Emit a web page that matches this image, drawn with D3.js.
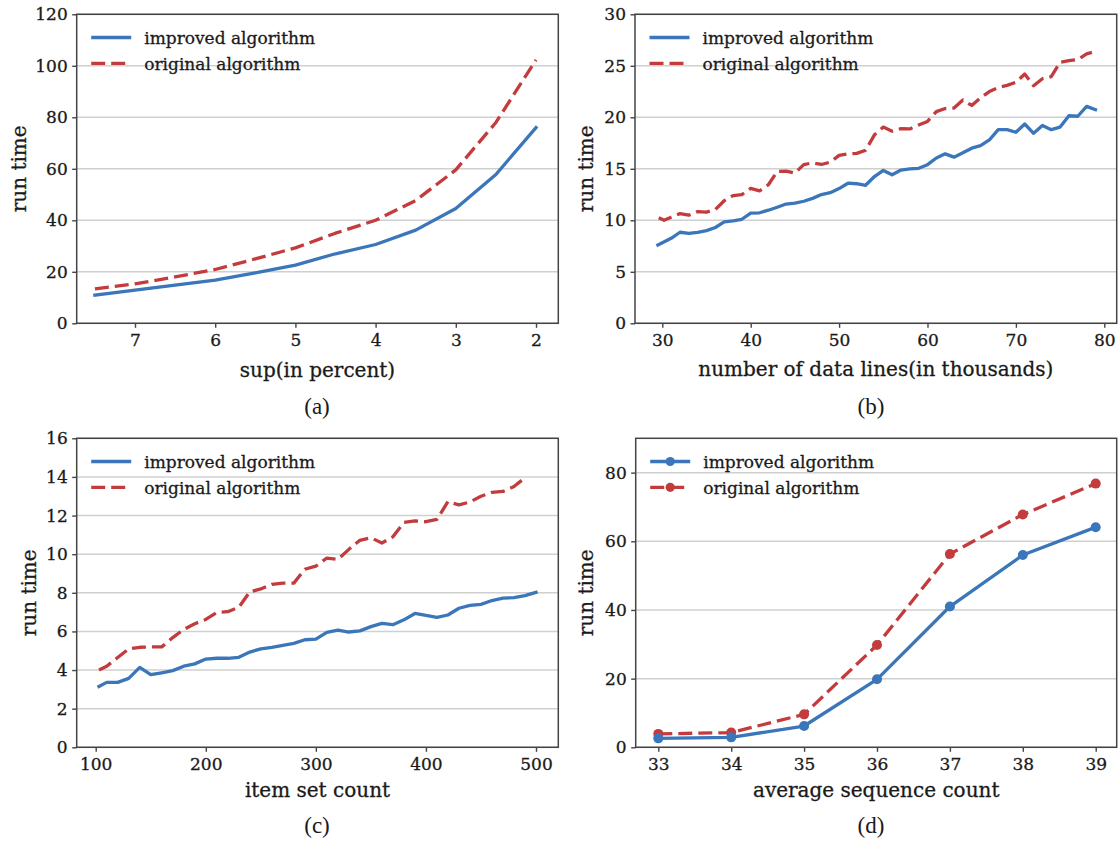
<!DOCTYPE html>
<html><head><meta charset="utf-8">
<script src="https://cdn.jsdelivr.net/npm/d3@7/dist/d3.min.js"></script>
<style>
body{margin:0;background:#fff}
text{font-family:"DejaVu Serif",serif;fill:#1a1a1a;stroke:#1a1a1a;stroke-width:0.3px}
</style>
</head><body>
<svg id="chart" width="1118" height="842"></svg>
<script>
// ---------- data ----------
const seriesNames = ["improved algorithm", "original algorithm"];

// (a) sup (in percent)
const aX = [7.5, 7, 6.5, 6, 5.5, 5, 4.5, 4, 3.5, 3, 2.5, 2];
const aImproved = [10.9, 12.9, 14.8, 16.8, 19.6, 22.6, 27.0, 30.6, 36.2, 44.6, 57.8, 76.0];
const aOriginal = [13.4, 15.3, 18.0, 20.9, 25.0, 29.3, 35.0, 40.0, 47.7, 59.6, 78.0, 102.3];
const aTicksX = [7, 6, 5, 4, 3, 2];
const aTicksY = [0, 20, 40, 60, 80, 100, 120];

// (b) number of data lines (in thousands)
const bXImproved = [29.5, 31, 32, 33, 34, 35, 36, 37, 38, 39, 40, 41, 42, 43, 44, 45, 46, 47, 48, 49, 50, 51, 52, 53, 54, 55, 56, 57, 58, 59, 60, 61, 62, 63, 64, 65, 66, 67, 68, 69, 70, 71, 72, 73, 74, 75, 76, 77, 78, 79];
const bImproved = [7.6, 8.25, 8.84, 8.72, 8.82, 9.0, 9.3, 9.85, 9.95, 10.1, 10.7, 10.73, 10.98, 11.27, 11.58, 11.67, 11.85, 12.13, 12.5, 12.68, 13.08, 13.6, 13.55, 13.4, 14.25, 14.84, 14.42, 14.88, 15.0, 15.05, 15.4, 16.05, 16.45, 16.13, 16.55, 17.0, 17.25, 17.8, 18.8, 18.8, 18.55, 19.35, 18.45, 19.2, 18.8, 19.05, 20.15, 20.1, 21.06, 20.74];
const bXOriginal = [29.6, 30.2, 31, 32, 33, 34, 35, 36, 37, 38, 39, 40, 41, 42, 43, 44, 45, 46, 47, 48, 49, 50, 51, 52, 53, 54, 55, 56, 57, 58, 59, 60, 61, 62, 63, 64, 65, 66, 67, 68, 69, 70, 71, 72, 73, 74, 75, 76, 77, 78, 78.6];
const bOriginal = [10.25, 10.0, 10.3, 10.65, 10.5, 10.85, 10.8, 11.05, 11.9, 12.4, 12.5, 13.1, 12.85, 13.45, 14.75, 14.78, 14.58, 15.4, 15.58, 15.42, 15.65, 16.3, 16.45, 16.5, 16.8, 18.3, 19.05, 18.65, 18.9, 18.87, 19.25, 19.6, 20.55, 20.85, 20.9, 21.68, 21.15, 21.9, 22.5, 22.9, 23.1, 23.4, 24.2, 23.06, 23.75, 23.95, 25.35, 25.5, 25.6, 26.15, 26.3];
const bTicksX = [30, 40, 50, 60, 70, 80];
const bTicksY = [0, 5, 10, 15, 20, 25, 30];

// (c) item set count
const cXImproved = [103, 110, 120, 130, 140, 150, 160, 170, 180, 190, 200, 210, 220, 230, 240, 250, 260, 270, 280, 290, 300, 310, 320, 330, 340, 350, 360, 370, 380, 390, 400, 410, 420, 430, 440, 450, 460, 470, 480, 490, 500];
const cImproved = [3.15, 3.36, 3.36, 3.57, 4.14, 3.76, 3.86, 3.97, 4.2, 4.32, 4.57, 4.61, 4.61, 4.66, 4.93, 5.1, 5.18, 5.28, 5.38, 5.57, 5.6, 5.95, 6.07, 5.97, 6.03, 6.25, 6.42, 6.35, 6.6, 6.93, 6.83, 6.73, 6.85, 7.2, 7.35, 7.4, 7.6, 7.72, 7.75, 7.85, 8.02];
const cXOriginal = [103, 110, 120, 130, 140, 150, 160, 170, 180, 190, 200, 210, 220, 230, 240, 250, 260, 270, 280, 290, 300, 310, 320, 330, 340, 350, 360, 370, 380, 390, 400, 410, 420, 430, 440, 450, 460, 470, 480, 490];
const cOriginal = [4.0, 4.2, 4.65, 5.1, 5.18, 5.2, 5.2, 5.68, 6.1, 6.4, 6.62, 6.98, 7.02, 7.25, 8.05, 8.2, 8.44, 8.5, 8.5, 9.22, 9.38, 9.8, 9.73, 10.25, 10.72, 10.85, 10.58, 10.9, 11.65, 11.72, 11.68, 11.8, 12.72, 12.55, 12.7, 13.0, 13.2, 13.25, 13.5, 13.96];
const cTicksX = [100, 200, 300, 400, 500];
const cTicksY = [0, 2, 4, 6, 8, 10, 12, 14, 16];

// (d) average sequence count
const dX = [33, 34, 35, 36, 37, 38, 39];
const dImproved = [2.6, 2.9, 6.2, 19.8, 41.0, 56.0, 64.1];
const dOriginal = [3.9, 4.3, 9.6, 29.8, 56.3, 67.8, 76.8];
const dTicksX = [33, 34, 35, 36, 37, 38, 39];
const dTicksY = [0, 20, 40, 60, 80];

const xLabels = ["sup(in percent)", "number of data lines(in thousands)", "item set count", "average sequence count"];
const yLabel = "run time";
const captions = ["(a)", "(b)", "(c)", "(d)"];

// ---------- styles ----------
const BLUE = "#3a76b9";
const RED = "#c33b3d";
const LW = 3.3;
const svg = d3.select("#chart");

function zip(xs, ys) { return xs.map((x, i) => ({x: x, y: ys[i]})); }

const panels = [
  {left: 76.7, right: 558.3, top: 14.3, bottom: 323.3, xd: [7.727, 1.722], yd: [0, 120],
   tx: aTicksX, ty: aTicksY, s1: zip(aX, aImproved), s2: zip(aX, aOriginal),
   xl: xLabels[0], xlY: 376.5, ylX: 19, cap: captions[0], capX: 317, capY: 414, markers: false},
  {left: 635, right: 1116.7, top: 14.3, bottom: 323.3, xd: [26.912, 81.403], yd: [0, 30],
   tx: bTicksX, ty: bTicksY, s1: zip(bXImproved, bImproved), s2: zip(bXOriginal, bOriginal),
   xl: xLabels[1], xlY: 376, ylX: 586, cap: captions[1], capX: 871, capY: 414, markers: false},
  {left: 76.7, right: 558.3, top: 438.3, bottom: 747.3, xd: [82.74, 520.26], yd: [0, 16],
   tx: cTicksX, ty: cTicksY, s1: zip(cXImproved, cImproved), s2: zip(cXOriginal, cOriginal),
   xl: xLabels[2], xlY: 796.5, ylX: 29, cap: captions[2], capX: 317, capY: 833, markers: false},
  {left: 635.7, right: 1116.7, top: 438.3, bottom: 747.3, xd: [32.69, 39.288], yd: [0, 90],
   tx: dTicksX, ty: dTicksY, s1: zip(dX, dImproved), s2: zip(dX, dOriginal),
   xl: xLabels[3], xlY: 796.5, ylX: 586, cap: captions[3], capX: 871, capY: 833, markers: true}
];

panels.forEach(p => {
  const x = d3.scaleLinear().domain(p.xd).range([p.left, p.right]);
  const y = d3.scaleLinear().domain(p.yd).range([p.bottom, p.top]);
  const g = svg.append("g");

  // grid
  g.append("g").selectAll("line").data(p.ty).join("line")
    .attr("x1", p.left).attr("x2", p.right)
    .attr("y1", d => y(d)).attr("y2", d => y(d))
    .attr("stroke", "#d0d0d0").attr("stroke-width", 1.5);

  // axes
  const ax = g.append("g").attr("transform", `translate(0,${p.bottom})`)
    .call(d3.axisBottom(x).tickValues(p.tx).tickSize(4.5).tickPadding(6.5).tickFormat(d3.format("d")));
  const ay = g.append("g").attr("transform", `translate(${p.left},0)`)
    .call(d3.axisLeft(y).tickValues(p.ty).tickSize(4.5).tickPadding(4.5).tickFormat(d3.format("d")));
  [ax, ay].forEach(a => {
    a.select(".domain").remove();
    a.selectAll(".tick line").attr("stroke", "#444").attr("stroke-width", 1.4);
    a.selectAll(".tick text").style("font-family", "'DejaVu Serif', serif")
      .style("font-size", "17px");
  });

  // lines
  const line = d3.line().x(d => x(d.x)).y(d => y(d.y));
  g.append("path").datum(p.s2).attr("d", line)
    .attr("fill", "none").attr("stroke", RED).attr("stroke-width", LW)
    .attr("stroke-dasharray", "14,6").attr("stroke-linejoin", "round");
  g.append("path").datum(p.s1).attr("d", line)
    .attr("fill", "none").attr("stroke", BLUE).attr("stroke-width", LW)
    .attr("stroke-linejoin", "round").attr("stroke-linecap", "square");
  if (p.markers) {
    g.append("g").selectAll("circle").data(p.s2).join("circle")
      .attr("cx", d => x(d.x)).attr("cy", d => y(d.y)).attr("r", 5).attr("fill", RED);
    g.append("g").selectAll("circle").data(p.s1).join("circle")
      .attr("cx", d => x(d.x)).attr("cy", d => y(d.y)).attr("r", 5).attr("fill", BLUE);
  }

  // frame
  g.append("rect").attr("x", p.left).attr("y", p.top)
    .attr("width", p.right - p.left).attr("height", p.bottom - p.top)
    .attr("fill", "none").attr("stroke", "#444").attr("stroke-width", 1.5);

  // legend
  const lg = g.append("g").attr("transform", `translate(${p.left},${p.top})`);
  [[BLUE, null, 23.2, seriesNames[0]], [RED, "14,6", 49, seriesNames[1]]].forEach(([c, dash, yy, name]) => {
    lg.append("line").attr("x1", 14.5).attr("x2", 54.5).attr("y1", yy).attr("y2", yy)
      .attr("stroke", c).attr("stroke-width", LW).attr("stroke-dasharray", dash);
    if (p.markers) lg.append("circle").attr("cx", 34.5).attr("cy", yy).attr("r", 4.6).attr("fill", c);
    lg.append("text").attr("x", 67.5).attr("y", yy + 6.5).style("font-size", "17px").text(name);
  });

  // axis labels
  g.append("text").attr("x", (p.left + p.right) / 2).attr("y", p.xlY)
    .attr("text-anchor", "middle").style("font-size", "20px").text(p.xl);
  g.append("text").attr("transform", `translate(${p.ylX},${(p.top + p.bottom) / 2}) rotate(-90)`)
    .attr("text-anchor", "middle").attr("dy", "0.35em").style("font-size", "20px").text(yLabel);

  // caption
  g.append("text").attr("x", p.capX).attr("y", p.capY).attr("text-anchor", "middle")
    .style("font-family", "'Liberation Serif', 'Times New Roman', serif").style("font-size", "23px")
    .style("stroke-width", "0px").text(p.cap);
});
</script>
</body></html>
